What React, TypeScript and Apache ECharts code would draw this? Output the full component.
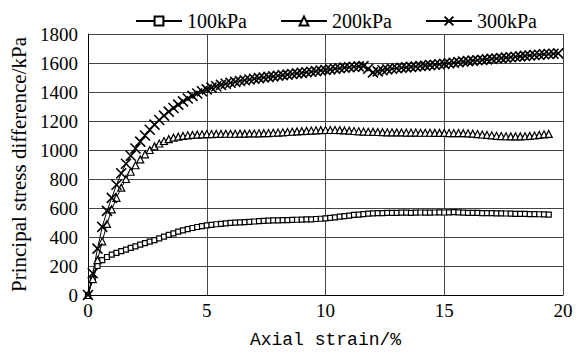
import React, { useEffect, useRef } from "react";
import * as echarts from "echarts";

const strain = [
  0, 0.2, 0.4, 0.6, 0.8, 1.0, 1.2, 1.4, 1.6, 1.8,
  2.0, 2.2, 2.4, 2.6, 2.8, 3.0, 3.2, 3.4, 3.6, 3.8,
  4.0, 4.2, 4.4, 4.6, 4.8, 5.0, 5.2, 5.4, 5.6, 5.8,
  6.0, 6.2, 6.4, 6.6, 6.8, 7.0, 7.2, 7.4, 7.6, 7.8,
  8.0, 8.2, 8.4, 8.6, 8.8, 9.0, 9.2, 9.4, 9.6, 9.8,
  10.0, 10.2, 10.4, 10.6, 10.8, 11.0, 11.2, 11.4, 11.6, 11.8,
  12.0, 12.2, 12.4, 12.6, 12.8, 13.0, 13.2, 13.4, 13.6, 13.8,
  14.0, 14.2, 14.4, 14.6, 14.8, 15.0, 15.2, 15.4, 15.6, 15.8,
  16.0, 16.2, 16.4, 16.6, 16.8, 17.0, 17.2, 17.4, 17.6, 17.8,
  18.0, 18.2, 18.4, 18.6, 18.8, 19.0, 19.2, 19.4, 19.6, 19.8,
];

const kpa100 = [
  0, 110, 200, 240, 262, 278, 290, 302, 313, 325,
  336, 347, 358, 368, 378, 390, 402, 415, 425, 437,
  446, 455, 462, 469, 475, 480, 484, 488, 491, 494,
  497, 499, 501, 503, 505, 507, 509, 511, 513, 514,
  515, 516, 517, 518, 519, 520, 521, 522, 524, 526,
  528, 532, 536, 540, 544, 548, 552, 555, 558, 561,
  563, 564, 565, 566, 566, 567, 568, 568, 567, 568,
  569, 568, 568, 569, 570, 569, 570, 571, 570, 568,
  567, 566, 566, 565, 565, 564, 563, 563, 562, 561,
  560, 560, 559, 558, 558, 557, 556, 555, null, null,
];

const kpa200 = [
  0, 110, 240, 370, 490, 590, 670, 740, 800, 850,
  895, 935, 970, 1000, 1025, 1045, 1062, 1075, 1085, 1092,
  1097, 1101, 1104, 1106, 1108, 1110, 1110, 1111, 1111, 1112,
  1112, 1112, 1113, 1113, 1114, 1114, 1115, 1116, 1117, 1119,
  1120, 1122, 1124, 1126, 1128, 1130, 1132, 1134, 1136, 1137,
  1138, 1138, 1138, 1137, 1135, 1133, 1131, 1129, 1127, 1126,
  1125, 1124, 1123, 1122, 1122, 1121, 1121, 1120, 1120, 1120,
  1119, 1119, 1119, 1118, 1118, 1118, 1117, 1117, 1117, 1116,
  1115, 1113, 1110, 1107, 1104, 1101, 1098, 1096, 1095, 1094,
  1094, 1094, 1095, 1097, 1100, 1104, 1108, 1111, null, null,
];

const kpa300 = [
  0, 150, 320, 470, 580, 670, 760, 840, 905, 960,
  1010, 1058, 1100, 1140, 1175, 1207, 1237, 1265, 1290, 1313,
  1335, 1355, 1373, 1390, 1405, 1418, 1430, 1440, 1449, 1457,
  1464, 1470, 1476, 1481, 1486, 1491, 1496, 1500, 1504, 1508,
  1512, 1516, 1520, 1524, 1528, 1532, 1536, 1540, 1544, 1548,
  1552, 1556, 1560, 1564, 1568, 1571, 1574, 1577, 1578, 1560,
  1535, 1542, 1550, 1556, 1560, 1564, 1567, 1570, 1573, 1576,
  1579, 1582, 1585, 1588, 1591, 1594, 1598, 1602, 1606, 1610,
  1613, 1616, 1619, 1622, 1625, 1628, 1631, 1634, 1637, 1640,
  1643, 1646, 1649, 1652, 1655, 1657, 1660, 1662, 1664, 1666,
];

const seriesNames = ["100kPa", "200kPa", "300kPa"];
const xTicks = { min: 0, max: 20, interval: 5 };
const yTicks = { min: 0, max: 1800, interval: 200 };

const SERIF = "Liberation Serif";
const MONO = "Liberation Mono";

function pairs(vals: (number | null)[]) {
  const out: [number, number][] = [];
  vals.forEach((v, i) => {
    if (v !== null) out.push([strain[i], v]);
  });
  return out;
}

export default function App() {
  const ref = useRef<HTMLDivElement>(null);
  useEffect(() => {
    if (!ref.current) return;
    const chart = echarts.init(ref.current, null, { renderer: "svg" });
    const symbols = ["rect", "triangle", "path://M0,0L10,10M10,0L0,10"];
    const sizes = [5, 7, 10];
    const datas = [kpa100, kpa200, kpa300];
    chart.setOption({
      animation: false,
      backgroundColor: "#fff",
      textStyle: { fontFamily: SERIF },
      legend: {
        top: 6,
        left: 130,
        itemWidth: 46,
        itemHeight: 11,
        itemGap: 33,
        textStyle: { fontFamily: SERIF, fontSize: 20, color: "#000" },
        data: seriesNames,
      },
      grid: { left: 88, right: 16, top: 34, bottom: 57 },
      xAxis: {
        type: "value",
        min: xTicks.min,
        max: xTicks.max,
        interval: xTicks.interval,
        name: "Axial strain/%",
        nameLocation: "middle",
        nameGap: 36,
        nameTextStyle: { fontFamily: MONO, fontSize: 18, color: "#000" },
        axisLine: { lineStyle: { color: "#000", width: 1 } },
        axisTick: { show: false },
        axisLabel: {
          fontFamily: SERIF,
          fontSize: 19,
          color: "#000",
          margin: 6,
          formatter: (v: number) => String(v),
        },
        splitLine: { show: true, lineStyle: { color: "#444", width: 1 } },
      },
      yAxis: {
        type: "value",
        min: yTicks.min,
        max: yTicks.max,
        interval: yTicks.interval,
        name: "Principal stress difference/kPa",
        nameLocation: "middle",
        nameGap: 56,
        nameTextStyle: { fontFamily: SERIF, fontSize: 21, color: "#000" },
        axisLine: { show: true, lineStyle: { color: "#000", width: 1 } },
        axisTick: { show: false },
        axisLabel: {
          fontFamily: SERIF,
          fontSize: 19,
          color: "#000",
          margin: 10,
          formatter: (v: number) => String(v),
        },
        splitLine: { show: true, lineStyle: { color: "#444", width: 1 } },
      },
      series: seriesNames.map((name, k) => ({
        name,
        type: "line",
        data: pairs(datas[k]),
        symbol: symbols[k],
        symbolSize: sizes[k],
        showSymbol: true,
        showAllSymbol: true,
        lineStyle: { color: "#000", width: 1 },
        itemStyle: {
          color: k === 2 ? "none" : "#fff",
          borderColor: "#000",
          borderWidth: k === 2 ? 1.6 : 1.2,
        },
        emphasis: { disabled: true },
      })),
    });
    return () => chart.dispose();
  }, []);
  return (
    <div
      ref={ref}
      style={{ position: "absolute", left: 0, top: 0, width: 579, height: 354 }}
    />
  );
}
